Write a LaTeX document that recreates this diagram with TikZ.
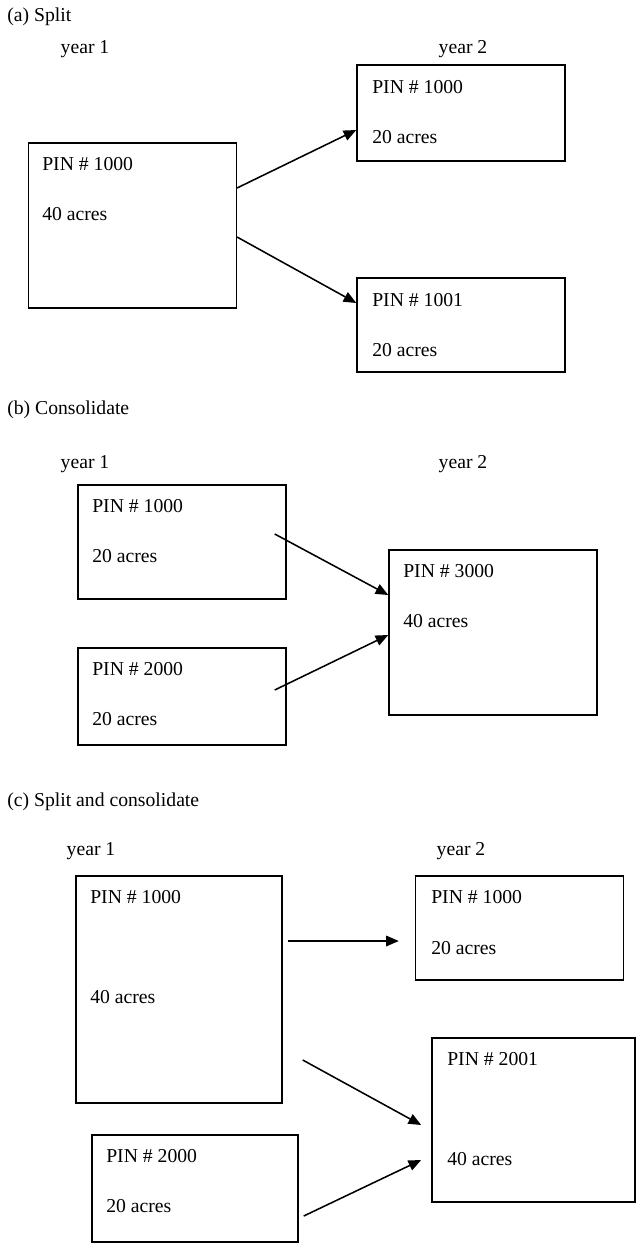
\documentclass[tikz,border=0pt]{standalone}
\usepackage{fontspec}
\setmainfont{Liberation Serif}
\usetikzlibrary{shapes,arrows.meta,positioning,calc}

\begin{document}
\begin{tikzpicture}[
    x=0.025cm, y=-0.025cm,
    box/.style={rectangle, draw=black, line width=1pt, minimum width=5.2cm, inner sep=0pt},
    lbl/.style={anchor=base west, inner sep=0pt, font=\fontsize{14}{17}\selectfont},
    yr/.style={anchor=base, inner sep=0pt, font=\fontsize{14}{17}\selectfont},
    arrow/.style={-{Triangle[length=9pt,width=7.5pt]}, line width=1.1pt}
]
\useasboundingbox (0,0) rectangle (637,1243);

% (a) Split
\node[lbl] (ttla) at (7, 21) {(a) Split};
\node[yr] (ya1) at (85, 53) {year 1};
\node[yr] (ya2) at (463, 53) {year 2};

\node[box, minimum height=4.13cm] (a1) at (132.3, 225.5) {};
\node[lbl] (a1pin) at (42, 170.5) {PIN \# 1000};
\node[lbl] (a1ac) at (42, 220.5) {40 acres};
\node[box, minimum height=2.4cm] (a2) at (461, 113) {};
\node[lbl] (a2pin) at (372, 93.5) {PIN \# 1000};
\node[lbl] (a2ac) at (372, 143.5) {20 acres};
\node[box, minimum height=2.35cm] (a3) at (461, 325) {};
\node[lbl] (a3pin) at (372, 306.5) {PIN \# 1001};
\node[lbl] (a3ac) at (372, 356.5) {20 acres};
\draw[arrow] ($(a1.east)+(0,-37.5)$) -- ($(a2.west)+(0,17)$);
\draw[arrow] ($(a1.east)+(0,11.5)$) -- ($(a3.west)+(0,-22)$);

% (b) Consolidate
\node[lbl] (ttlb) at (7, 414.5) {(b) Consolidate};
\node[yr] (yb1) at (85, 468) {year 1};
\node[yr] (yb2) at (463, 468) {year 2};

\node[box, minimum height=2.85cm] (b1) at (182, 542) {};
\node[lbl] (b1pin) at (92, 512.5) {PIN \# 1000};
\node[lbl] (b1ac) at (92, 562.5) {20 acres};
\node[box, minimum height=2.43cm] (b2) at (182, 696.5) {};
\node[lbl] (b2pin) at (92, 675.5) {PIN \# 2000};
\node[lbl] (b2ac) at (92, 725.5) {20 acres};
\node[box, minimum height=4.13cm] (b3) at (493, 632.5) {};
\node[lbl] (b3pin) at (403, 577.5) {PIN \# 3000};
\node[lbl] (b3ac) at (403, 627.5) {40 acres};
\draw[arrow] ($(b1.east)+(-12,-8)$) -- ($(b3.west)+(0,-37.5)$);
\draw[arrow] ($(b2.east)+(-12,-6.5)$) -- ($(b3.west)+(0,2.5)$);

% (c) Split and consolidate
\node[lbl] (ttlc) at (7, 806.5) {(c) Split and consolidate};
\node[yr] (yc1) at (91, 855) {year 1};
\node[yr] (yc2) at (461, 855) {year 2};

\node[box, minimum width=5.15cm, minimum height=5.68cm] (c1) at (179, 989.5) {};
\node[lbl] (c1pin) at (90, 903.5) {PIN \# 1000};
\node[lbl] (c1ac) at (90, 1003.5) {40 acres};
\node[box, minimum height=2.6cm] (c2) at (519.5, 928) {};
\node[lbl] (c2pin) at (431, 903.5) {PIN \# 1000};
\node[lbl] (c2ac) at (431, 954.5) {20 acres};
\node[box, minimum width=5.08cm, minimum height=4.1cm] (c3) at (533.5, 1120) {};
\node[lbl] (c3pin) at (447, 1065.5) {PIN \# 2001};
\node[lbl] (c3ac) at (447, 1165.5) {40 acres};
\node[box, minimum width=5.15cm, minimum height=2.68cm] (c4) at (195, 1188.5) {};
\node[lbl] (c4pin) at (106, 1162.5) {PIN \# 2000};
\node[lbl] (c4ac) at (106, 1212.5) {20 acres};
\draw[arrow] ($(c1.east)+(5,-48.5)$) -- ($(c2.west)+(-16,13)$);
\draw[arrow] ($(c1.east)+(20,70.5)$) -- ($(c3.west)+(-10,5)$);
\draw[arrow] ($(c4.east)+(5,27.5)$) -- ($(c3.west)+(-10,40)$);

\end{tikzpicture}
\end{document}
